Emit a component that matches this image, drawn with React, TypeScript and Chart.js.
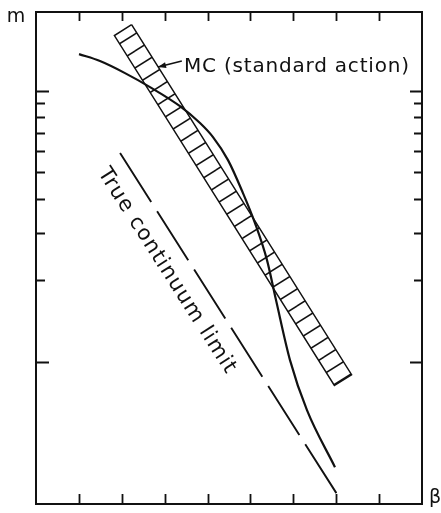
import React, { useEffect, useRef } from "react";
import { Chart, registerables } from "chart.js";

Chart.register(...registerables);

// ---- axes ----
const X_MIN = 0;
const X_MAX = 9;
const Y_MIN = 0.3;
const Y_MAX = 19.5;
const X_TICKS = [1, 2, 3, 4, 5, 6, 7, 8];
const Y_MAJOR_TICKS = [1, 10];
const Y_MINOR_TICKS = [2, 3, 4, 5, 6, 7, 8, 9];
const X_AXIS_LABEL = "β";
const Y_AXIS_LABEL = "m";

// ---- solid curve ----
const CURVE_BETA = [1.003, 1.492, 2.075, 2.658, 3.357, 3.824, 4.127, 4.477, 4.826, 5.106, 5.386, 5.596, 5.922, 6.318, 6.971];
const CURVE_M = [13.64, 12.86, 11.61, 10.31, 8.77, 7.6, 6.745, 5.55, 4.195, 3.252, 2.376, 1.692, 1.017, 0.665, 0.41];

// ---- true continuum limit (dashed) ----
const CONTINUUM_BETA = [1.96, 7.02];
const CONTINUUM_M = [5.89, 0.326];
const CONTINUUM_LABEL = "True continuum limit";
const CONTINUUM_LABEL_AT = { x: 3.054, y: 2.164 };
const CONTINUUM_LABEL_ANGLE = 57.4;

// ---- MC band (hatched) ----
const MC_BAND_BETA = [2.229, 7.358, 6.957, 1.828, 2.229];
const MC_BAND_M = [17.51, 0.899, 0.82, 15.97, 17.51];
const MC_LABEL = "MC (standard action)";
const MC_LABEL_AT = { x: 3.45, y: 12.3 };
const MC_ARROW_FROM = { x: 3.4, y: 12.86 };
const MC_ARROW_TO = { x: 2.845, y: 12.22 };

const INK = "#111";
const FONT = "DejaVu Sans, sans-serif";

function makeHatch(): CanvasPattern | string {
  const W = 27;
  const H = 17;
  const c = document.createElement("canvas");
  c.width = W;
  c.height = H;
  const g = c.getContext("2d");
  if (!g) return "transparent";
  g.strokeStyle = INK;
  g.lineWidth = 1.5;
  for (const [dx, dy] of [[0, 0], [W, 0], [-W, 0], [0, H], [0, -H]]) {
    g.beginPath();
    g.moveTo(0 + dx, H + dy);
    g.lineTo(W + dx, 0 + dy);
    g.stroke();
  }
  const p = g.createPattern(c, "repeat");
  return p || "transparent";
}

const framePlugin = {
  id: "frameAndLabels",
  afterDraw(chart: any) {
    const ctx: CanvasRenderingContext2D = chart.ctx;
    const { left, right, top, bottom } = chart.chartArea;
    const xs = chart.scales.x;
    const ys = chart.scales.y;
    ctx.save();
    ctx.strokeStyle = INK;
    ctx.fillStyle = INK;
    ctx.lineWidth = 2;
    ctx.strokeRect(left, top, right - left, bottom - top);

    ctx.lineWidth = 1.8;
    ctx.beginPath();
    for (const v of X_TICKS) {
      const px = Math.round(xs.getPixelForValue(v)) + 0.5;
      ctx.moveTo(px, top);
      ctx.lineTo(px, top + 9);
      ctx.moveTo(px, bottom);
      ctx.lineTo(px, bottom - 10);
    }
    for (const v of Y_MAJOR_TICKS) {
      const py = Math.round(ys.getPixelForValue(v)) + 0.5;
      ctx.moveTo(left, py);
      ctx.lineTo(left + 13, py);
      ctx.moveTo(right, py);
      ctx.lineTo(right - 12, py);
    }
    for (const v of Y_MINOR_TICKS) {
      const py = Math.round(ys.getPixelForValue(v)) + 0.5;
      ctx.moveTo(left, py);
      ctx.lineTo(left + 9, py);
      ctx.moveTo(right, py);
      ctx.lineTo(right - 8, py);
    }
    ctx.stroke();

    // axis labels
    ctx.font = `19px ${FONT}`;
    ctx.textAlign = "center";
    ctx.textBaseline = "alphabetic";
    ctx.fillText(Y_AXIS_LABEL, left - 20, top + 10);
    ctx.textAlign = "left";
    ctx.fillText(X_AXIS_LABEL, right + 7, bottom - 1);

    // MC label + arrow
    const fx = xs.getPixelForValue(MC_ARROW_FROM.x);
    const fy = ys.getPixelForValue(MC_ARROW_FROM.y);
    const tx = xs.getPixelForValue(MC_ARROW_TO.x);
    const ty = ys.getPixelForValue(MC_ARROW_TO.y);
    ctx.lineWidth = 1.6;
    ctx.beginPath();
    ctx.moveTo(fx, fy);
    ctx.lineTo(tx, ty);
    ctx.stroke();
    const ang = Math.atan2(ty - fy, tx - fx);
    const L = 8;
    const hw = 3;
    ctx.beginPath();
    ctx.moveTo(tx, ty);
    ctx.lineTo(tx - L * Math.cos(ang) - hw * Math.sin(ang), ty - L * Math.sin(ang) + hw * Math.cos(ang));
    ctx.lineTo(tx - L * Math.cos(ang) + hw * Math.sin(ang), ty - L * Math.sin(ang) - hw * Math.cos(ang));
    ctx.closePath();
    ctx.fill();

    ctx.font = `20px ${FONT}`;
    (ctx as any).letterSpacing = "0.8px";
    ctx.textAlign = "left";
    ctx.textBaseline = "middle";
    ctx.fillText(MC_LABEL, xs.getPixelForValue(MC_LABEL_AT.x), ys.getPixelForValue(MC_LABEL_AT.y));

    // continuum label
    ctx.save();
    ctx.font = `21px ${FONT}`;
    (ctx as any).letterSpacing = "1.2px";
    ctx.translate(xs.getPixelForValue(CONTINUUM_LABEL_AT.x), ys.getPixelForValue(CONTINUUM_LABEL_AT.y));
    ctx.rotate((CONTINUUM_LABEL_ANGLE * Math.PI) / 180);
    ctx.textAlign = "center";
    ctx.textBaseline = "middle";
    ctx.fillText(CONTINUUM_LABEL, 0, 0);
    ctx.restore();

    ctx.restore();
  },
};

const toPoints = (xs: number[], ys: number[]) => xs.map((x, i) => ({ x, y: ys[i] }));

export default function App() {
  const ref = useRef<HTMLCanvasElement | null>(null);
  useEffect(() => {
    if (!ref.current) return;
    const chart = new Chart(ref.current, {
      type: "line",
      data: {
        datasets: [
          {
            data: toPoints(MC_BAND_BETA, MC_BAND_M),
            borderColor: INK,
            borderWidth: 1.5,
            backgroundColor: makeHatch() as any,
            fill: "shape" as any,
            pointRadius: 0,
            tension: 0,
          },
          {
            data: toPoints(CURVE_BETA, CURVE_M),
            borderColor: INK,
            borderWidth: 2.2,
            fill: false,
            pointRadius: 0,
            cubicInterpolationMode: "monotone",
          },
          {
            data: toPoints(CONTINUUM_BETA, CONTINUUM_M),
            borderColor: INK,
            borderWidth: 1.9,
            borderDash: [58, 11],
            fill: false,
            pointRadius: 0,
          },
        ],
      },
      options: {
        responsive: false,
        animation: false,
        layout: { padding: { left: 36, top: 12, right: 19, bottom: 9 } },
        plugins: { legend: { display: false }, tooltip: { enabled: false }, title: { display: false } },
        scales: {
          x: { type: "linear", min: X_MIN, max: X_MAX, display: false },
          y: { type: "logarithmic", min: Y_MIN, max: Y_MAX, display: false },
        },
      },
      plugins: [framePlugin],
    });
    return () => chart.destroy();
  }, []);
  return (
    <div style={{ position: "absolute", left: 0, top: 0, width: 441, height: 513, background: "#fff" }}>
      <canvas ref={ref} width={441} height={513} style={{ display: "block" }} />
    </div>
  );
}
